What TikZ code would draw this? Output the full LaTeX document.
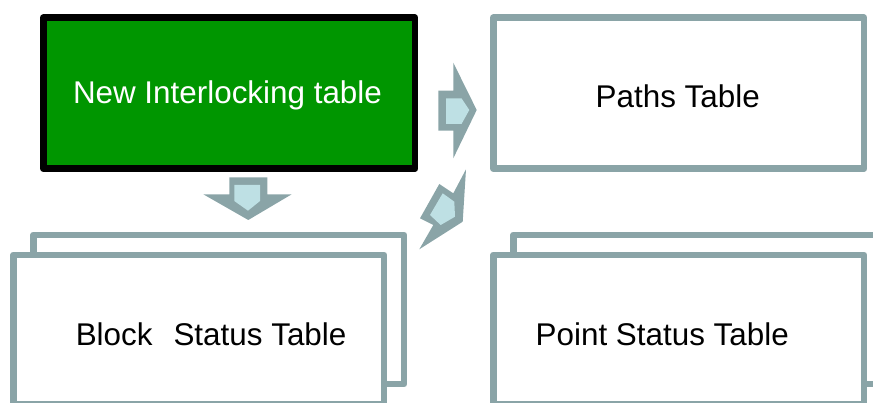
\documentclass[tikz,border=0pt]{standalone}
\usepackage{fontspec}
\setmainfont{Liberation Sans}
\definecolor{edgegray}{HTML}{8AA4A7}
\definecolor{arrowfill}{HTML}{BEE0E4}
\definecolor{leafgreen}{HTML}{009600}
\tikzset{
  tablebox/.style={draw=edgegray, line width=6.7pt, fill=white, line join=round,
    inner sep=0pt, outer sep=0pt, minimum width=370.7pt},
  startbox/.style={draw=black, line width=6.7pt, fill=leafgreen, line join=round,
    inner sep=0pt, outer sep=0pt, minimum width=371.7pt, minimum height=150.9pt},
  tabletext/.style={font=\fontsize{31.4}{37}\selectfont, inner sep=0pt, anchor=base west},
  arrowouter/.style={fill=edgegray},
  arrowinner/.style={fill=arrowfill}
}
\begin{document}
\begin{tikzpicture}[x=1pt,y=-1pt]
  \useasboundingbox (0,0) rectangle (873,403);
  \clip (0,0) rectangle (873,403);

  % top row
  \node[startbox] (newtab) at (229.15,93.25) {};
  \node[tablebox, minimum height=150.9pt] (paths) at (678.65,93.25) {};

  % stacked tables, back sheet first
  \node[tablebox, minimum height=149pt] (blockback) at (218.65,309.5) {};
  \node[tablebox, minimum height=149pt] (block) at (198.65,329.5) {};
  \node[tablebox, minimum height=149pt] (pointback) at (698.65,309.5) {};
  \node[tablebox, minimum height=149pt] (point) at (678.65,329.5) {};

  % captions
  \node[tabletext, text=white] (newtabtxt) at (72.8,103.3) {New Interlocking table};
  \node[tabletext] (pathstxt) at (595.5,107.7) {Paths Table};
  \node[tabletext] (blocktxt) at (75.6,345) {Block\hspace{21pt}Status Table};
  \node[tabletext] (pointtxt) at (535.5,345) {Point Status Table};

  % block arrow towards the paths table
  \fill[arrowouter] (438.3,90.7) -- (453.3,90.7) -- (453.3,62.7) -- (476.7,110)
    -- (453.3,158.3) -- (453.3,130.7) -- (438.3,130.7) -- cycle;
  \fill[arrowinner] (446,98.3) -- (461.5,98.3) -- (469.3,110) -- (461.5,124)
    -- (446,124) -- cycle;

  % block arrow down to the block status table
  \fill[arrowouter] (229.3,177.3) -- (267.3,177.3) -- (267.3,194.3) -- (291.7,194.3)
    -- (248.3,220) -- (203.3,194.3) -- (229.3,194.3) -- cycle;
  \fill[arrowinner] (234.3,185) -- (260,185) -- (260,201) -- (248,210.7)
    -- (234.3,201) -- cycle;

  % slanted block arrow between the columns
  \fill[arrowouter] (466.0,169.3) -- (453.3,193.3) -- (439.3,184.0) -- (420.0,218.3)
    -- (433.3,225.0) -- (419.3,249.3) -- (462.7,221.7) -- cycle;
  \fill[arrowinner] (442.7,193.3) -- (454.3,201.7) -- (455,216.7) -- (440.7,225)
    -- (430,215) -- cycle;
\end{tikzpicture}
\end{document}
